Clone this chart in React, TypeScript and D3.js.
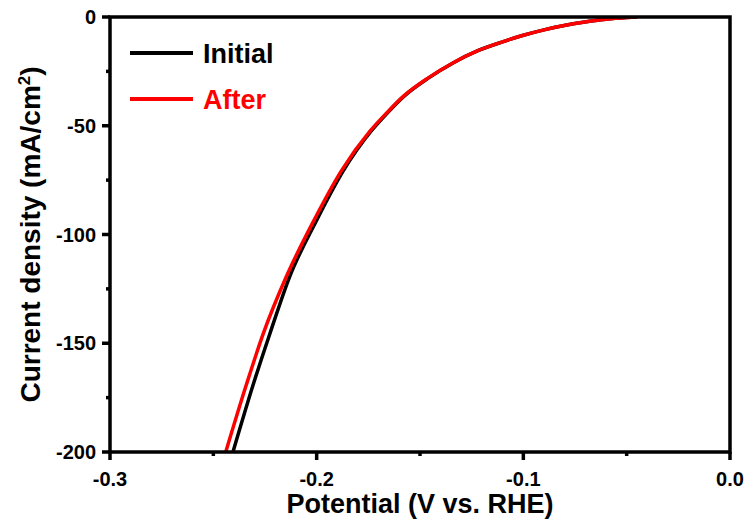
import React from "react";
import * as d3 from "d3";

// Potential (V vs. RHE) and current density (mA/cm²)
const initialPotential = [-0.2405, -0.2307, -0.2226, -0.2129, -0.2003, -0.187, -0.1737, -0.1657, -0.1578, -0.1458, -0.1338, -0.122, -0.1097, -0.1, -0.09, -0.079, -0.071, -0.06, -0.05, -0.045];
const initialCurrent = [-200, -169, -145.5, -119, -94, -70.5, -52.5, -44, -36.5, -28, -21, -15.5, -11.3, -8.4, -5.9, -3.7, -2.4, -1.0, -0.25, 0];
const afterPotential = [-0.244, -0.234, -0.2258, -0.2145, -0.2016, -0.1879, -0.1742, -0.166, -0.1581, -0.146, -0.1339, -0.122, -0.1097, -0.1, -0.09, -0.079, -0.071, -0.06, -0.05, -0.045];
const afterCurrent = [-200, -169, -145.5, -119, -94, -70.5, -52.5, -44, -36.5, -28, -21, -15.5, -11.3, -8.4, -5.9, -3.7, -2.4, -1.0, -0.25, 0];

const xMajorTicks = [-0.3, -0.2, -0.1, 0.0];
const xMinorTicks = [-0.25, -0.15, -0.05];
const yMajorTicks = [0, -50, -100, -150, -200];
const yMinorTicks = [-25, -75, -125, -175];
const seriesNames = ["Initial", "After"];
const seriesColors = ["#000000", "#ff0000"];

const W = 750, H = 531;
const L = 110, R = 730, T = 17, B = 452;
const FONT = "'Liberation Sans', Arial, sans-serif";

export default function App() {
  const x = d3.scaleLinear().domain([-0.3, 0]).range([L, R]);
  const y = d3.scaleLinear().domain([-200, 0]).range([B, T]);
  const line = d3
    .line<[number, number]>()
    .x((d) => x(d[0]))
    .y((d) => y(d[1]))
    .curve(d3.curveMonotoneX);
  const initialData = initialPotential.map((v, i) => [v, initialCurrent[i]] as [number, number]);
  const afterData = afterPotential.map((v, i) => [v, afterCurrent[i]] as [number, number]);
  const series = [initialData, afterData];

  return (
    <svg width={W} height={H} style={{ position: "absolute", left: 0, top: 0, background: "#fff" }} fontFamily={FONT} fontWeight="bold">
      <defs>
        <clipPath id="plot">
          <rect x={L} y={T} width={R - L} height={B - T} />
        </clipPath>
      </defs>
      <g clipPath="url(#plot)">
        {series.map((d, i) => (
          <path key={i} d={line(d) || ""} fill="none" stroke={seriesColors[i]} strokeWidth={3.5} strokeLinejoin="round" />
        ))}
      </g>
      <rect x={L} y={T} width={R - L} height={B - T} fill="none" stroke="#000" strokeWidth={3.5} />
      {xMajorTicks.map((t) => (
        <g key={"xM" + t}>
          <line x1={x(t)} x2={x(t)} y1={B} y2={B + 8} stroke="#000" strokeWidth={3.5} />
          <text x={x(t)} y={486} textAnchor="middle" fontSize={20}>{t.toFixed(1)}</text>
        </g>
      ))}
      {xMinorTicks.map((t) => (
        <line key={"xm" + t} x1={x(t)} x2={x(t)} y1={B} y2={B + 4} stroke="#000" strokeWidth={3.5} />
      ))}
      {yMajorTicks.map((t) => (
        <g key={"yM" + t}>
          <line x1={L - 8} x2={L} y1={y(t)} y2={y(t)} stroke="#000" strokeWidth={3.5} />
          <text x={96} y={y(t)} dy="0.35em" textAnchor="end" fontSize={20}>{t}</text>
        </g>
      ))}
      {yMinorTicks.map((t) => (
        <line key={"ym" + t} x1={L - 4} x2={L} y1={y(t)} y2={y(t)} stroke="#000" strokeWidth={3.5} />
      ))}
      <text x={(L + R) / 2} y={513} textAnchor="middle" fontSize={27}>Potential (V vs. RHE)</text>
      <text transform={`translate(40, ${(T + B) / 2}) rotate(-90)`} textAnchor="middle" fontSize={28}>
        Current density (mA/cm<tspan dy={-10} fontSize={17}>2</tspan><tspan dy={10}>)</tspan>
      </text>
      {seriesNames.map((n, i) => (
        <g key={n}>
          <line x1={130} x2={193} y1={53 + i * 46} y2={53 + i * 46} stroke={seriesColors[i]} strokeWidth={4} />
          <text x={203} y={63 + i * 46} fontSize={27} fill={seriesColors[i]}>{n}</text>
        </g>
      ))}
    </svg>
  );
}
